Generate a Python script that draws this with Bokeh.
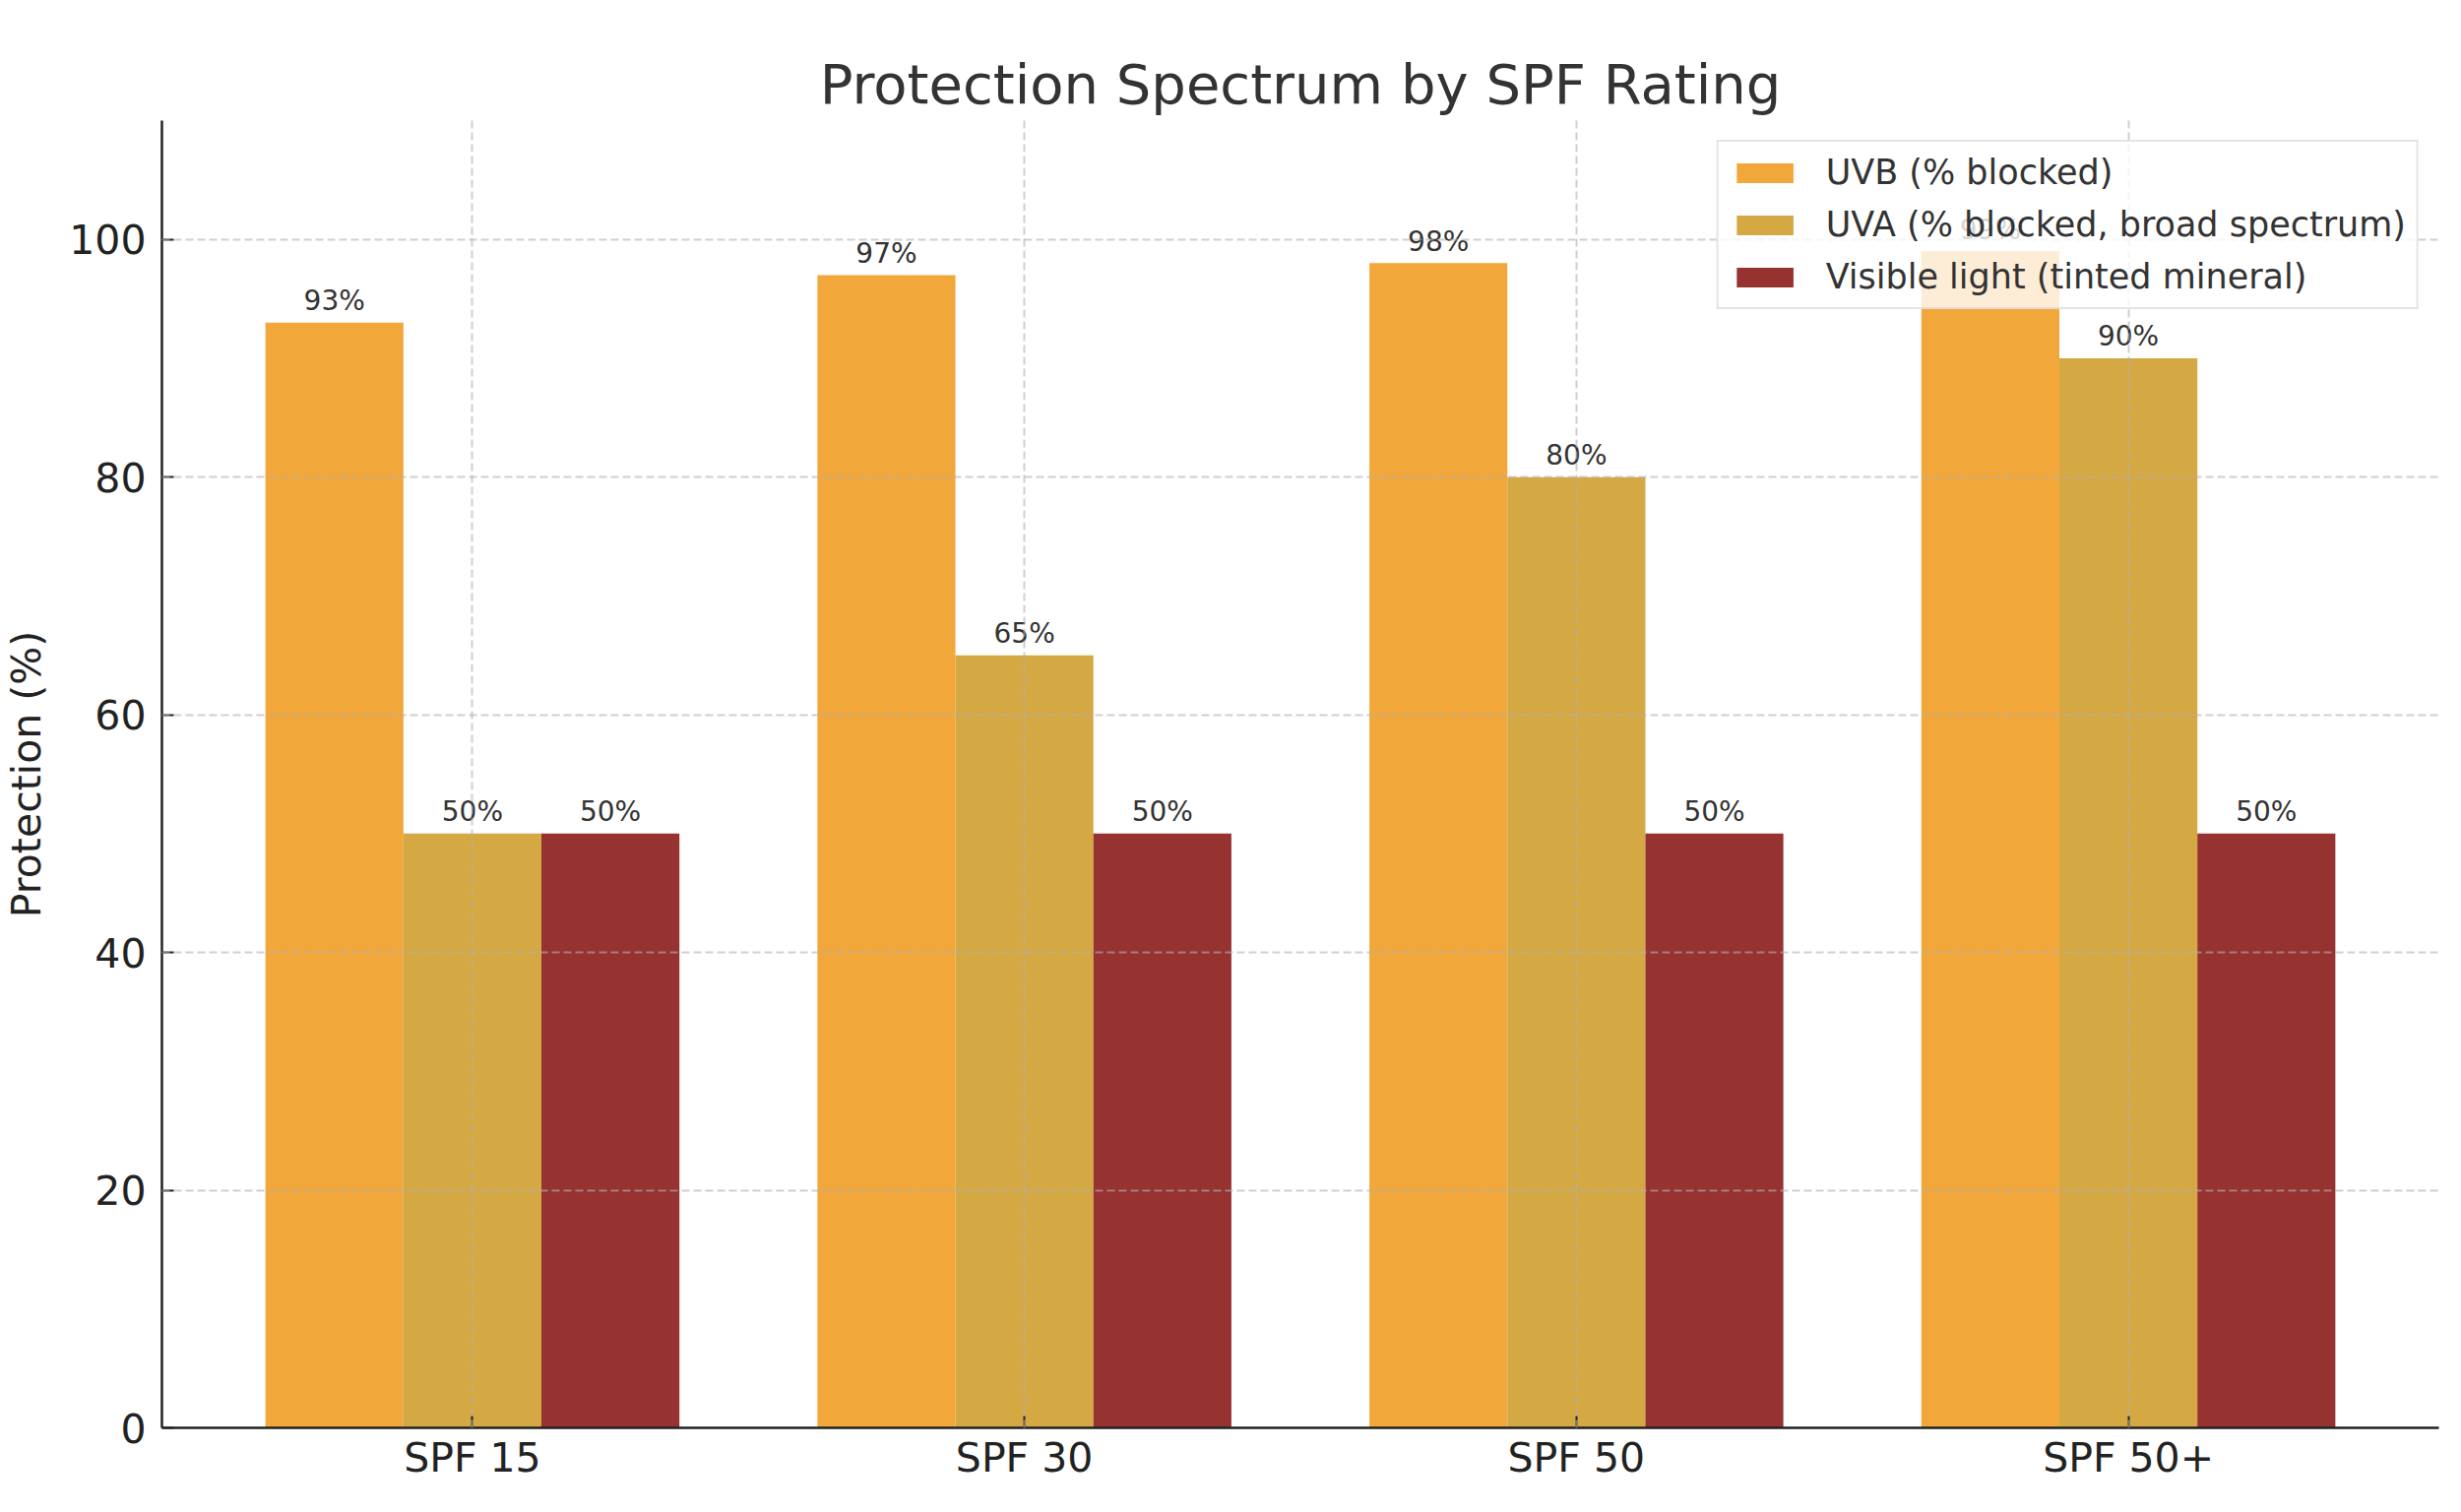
import numpy as np
from bokeh.plotting import figure
from bokeh.models import ColumnDataSource, FixedTicker, Range1d
from bokeh.embed import file_html
from bokeh.resources import INLINE
from bokeh.core.properties import value

categories = ["SPF 15", "SPF 30", "SPF 50", "SPF 50+"]
uvb = [93, 97, 98, 99]
uva = [50, 65, 80, 90]
visible = [50, 50, 50, 50]
series_names = ["UVB (% blocked)", "UVA (% blocked, broad spectrum)", "Visible light (tinted mineral)"]
series_colors = ["#F2A73B", "#D4A843", "#963330"]
y_ticks = [0, 20, 40, 60, 80, 100]
y_max = 110

FONT = "DejaVu Sans"
idx = np.arange(len(categories))
bar_w = 0.25
offsets = [-bar_w, 0.0, bar_w]

left = idx.min() + offsets[0] - bar_w / 2
right = idx.max() + offsets[-1] + bar_w / 2
pad = 0.05 * (right - left)

p = figure(width=2484, height=1520, output_backend="svg", toolbar_location=None,
           x_range=Range1d(left - pad, right + pad), y_range=Range1d(0, y_max),
           min_border_left=161, min_border_right=7, min_border_top=122, min_border_bottom=70)

p.background_fill_color = "white"
p.border_fill_color = "white"
p.outline_line_color = None

p.title.text = "Protection Spectrum by SPF Rating"
p.title.align = "center"
p.title.text_font = FONT
p.title.text_font_size = "56px"
p.title.text_font_style = "normal"
p.title.text_color = "#333333"

for vals, name, col, off in zip([uvb, uva, visible], series_names, series_colors, offsets):
    src = ColumnDataSource(dict(x=idx + off, top=vals, label=[f"{v}%" for v in vals]))
    p.vbar(x="x", top="top", width=bar_w, source=src, fill_color=col, line_color=None,
           legend_label=name)
    p.text(x="x", y="top", text="label", source=src, text_align="center",
           text_baseline="alphabetic", y_offset=-22, text_font_size="28px",
           text_font=value(FONT), text_color="#333333")

p.xaxis.ticker = FixedTicker(ticks=[int(i) for i in idx])
p.xaxis.major_label_overrides = {int(i): c for i, c in zip(idx, categories)}
p.yaxis.ticker = FixedTicker(ticks=y_ticks)

p.axis.major_tick_in = 12
p.axis.major_tick_out = 0
p.axis.minor_tick_in = 0
p.axis.minor_tick_out = 0
p.axis.major_tick_line_width = 2
p.axis.major_tick_line_color = "#222222"
p.axis.axis_line_width = 2.5
p.axis.axis_line_color = "#222222"
p.axis.major_label_text_font = FONT
p.axis.major_label_text_font_size = "41px"
p.axis.major_label_text_color = "#222222"
p.yaxis.major_label_standoff = 16
p.xaxis.major_label_standoff = 6

p.yaxis.axis_label = "Protection (%)"
p.yaxis.axis_label_text_font = FONT
p.yaxis.axis_label_text_font_size = "41px"
p.yaxis.axis_label_text_font_style = "normal"
p.yaxis.axis_label_text_color = "#222222"
p.yaxis.axis_label_standoff = 16

p.xgrid.ticker = FixedTicker(ticks=[int(i) for i in idx])
p.ygrid.ticker = FixedTicker(ticks=y_ticks)
p.grid.grid_line_color = "#b0b0b0"
p.grid.grid_line_alpha = 0.6
p.grid.grid_line_width = 2
p.grid.grid_line_dash = "8 4"
p.grid.level = "guide"

lg = p.legend[0]
lg.location = "top_right"
lg.margin = 20
lg.padding = 11
lg.spacing = 13
lg.glyph_width = 72
lg.glyph_height = 25
lg.label_standoff = 26
lg.label_text_font = FONT
lg.label_text_font_size = "35px"
lg.label_text_color = "#333333"
lg.border_line_color = "#cccccc"
lg.border_line_width = 2
lg.background_fill_color = "white"
lg.background_fill_alpha = 0.8

open("out.html", "w").write(file_html(p, INLINE))
